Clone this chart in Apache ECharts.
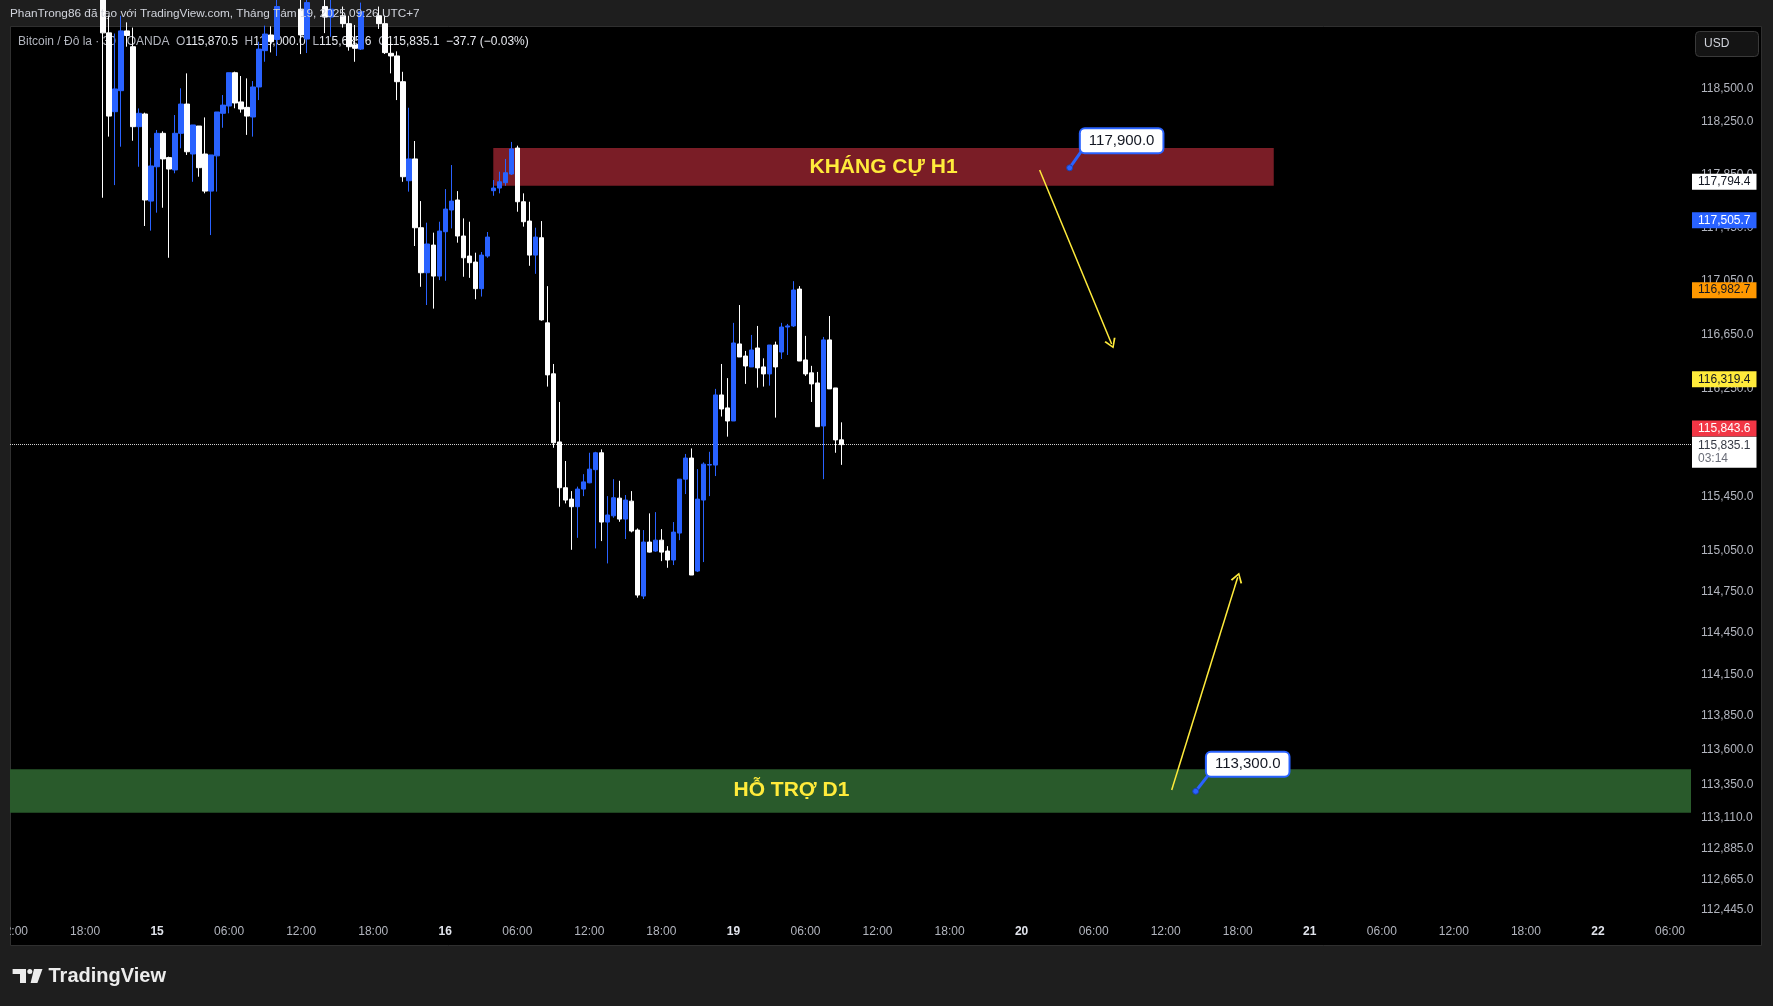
<!DOCTYPE html>
<html><head><meta charset="utf-8">
<script src="https://cdn.jsdelivr.net/npm/echarts/dist/echarts.min.js"></script>
<style>html,body{margin:0;padding:0;background:#1e1e1e;overflow:hidden}#c{width:1773px;height:1006px}</style>
</head><body><div id="c"></div>
<script>
// ---- data ----
const tickLabels = ['12:00','18:00','15','06:00','12:00','18:00','16','06:00','12:00','18:00','19','06:00','12:00','18:00','20','06:00','12:00','18:00','21','06:00','12:00','18:00','22','06:00'];
const dayLabels = ['15','16','19','20','21','22'];
const barCount = 280;
const firstBar = 15;
const opens = [
119300,118920,118323,118482,118935,118815,118210,118306,117650,117908,
118160,117977,117884,118160,118381,118004,118215,118004,117725,117990,
118311,118366,118618,118397,118356,118283,118510,118785,118904,118870,
119120,119060,119180,119100,118873,119150,119220,119120,119040,119100,
119050,118990,118828,118797,119080,119150,119050,118990,118765,118745,
118550,117803,117967,117450,117113,117320,117088,117420,117583,117658,
117388,117238,117193,116994,117238,117728,117748,117788,117853,118049,
117645,117500,117245,117375,116739,116360,115855,115517,115433,115377,
115507,115553,115650,115775,115264,115310,115440,115286,115418,115205,
114721,115117,115051,115131,115051,114985,115183,115580,115736,114904,
115426,115684,115684,116203,116107,116010,116582,116492,116411,116552,
116411,116359,116574,116522,116708,116716,116991,116463,116367,116292,
115973,116612,116255,115870.5];
const highs = [
119450,119050,118915,119050,119000,118960,118348,118316,118051,118185,
118175,117984,118298,118500,118613,118223,118215,118280,117997,118321,
118449,118618,118626,118593,118575,118555,118853,118975,118970,119200,
119250,119300,119280,119200,119250,119320,119300,119180,119200,119180,
119120,119050,118980,119150,119250,119220,119120,119050,118850,118780,
118625,118353,118102,117650,117488,117413,117495,117740,117921,117725,
117520,117495,117263,117268,117418,117808,117871,117967,118095,118067,
117708,117645,117450,117500,117013,116433,116151,115714,115492,115525,
115617,115775,115782,115800,115455,115580,115568,115463,115492,115217,
115205,115328,115337,115212,115087,115264,115580,115766,115807,115654,
115704,115782,116248,116433,116328,116739,116872,116530,116649,116716,
116475,116574,116599,116739,116731,117050,117013,116642,116419,116374,
116634,116790,116255,116000];
const lows = [
117675,118135,117770,118059,118815,118104,117908,117463,117428,117563,
117600,117225,117859,118047,117997,117795,117833,117708,117395,117721,
118202,118311,118349,118316,118148,118135,118411,118701,118772,118745,
119000,119020,119040,118759,118767,119080,119050,118918,118890,119000,
118960,118785,118701,118790,119030,118990,118950,118760,118613,118411,
117795,117721,117313,117008,116872,116845,117058,117053,117445,117338,
117083,117075,116915,116935,117225,117690,117708,117765,117846,117570,
117458,117165,117105,116755,116265,115812,115377,115401,115060,115148,
115455,115550,115070,115124,114960,115296,115266,115139,115188,114709,
114699,115040,115045,114977,114928,114948,115131,115470,114875,114897,
114970,115455,115603,116043,115894,116010,116485,116285,116411,116257,
116265,116272,116035,116470,116500,116708,116455,116344,116151,115968,
115580,116248,115775,115685.6];
const closes = [
118920,118290,118495,118935,118900,118210,118311,117658,117914,118160,
117967,117891,118160,118381,118021,118223,117901,117725,117997,118321,
118373,118618,118389,118343,118290,118510,118797,118911,118853,119120,
119060,119180,119100,118904,119150,119220,119120,119040,119100,119050,
118990,118815,118803,119080,119150,119050,118990,118770,118745,118550,
117833,117967,117450,117113,117328,117088,117425,117590,117650,117388,
117225,117188,116994,117245,117380,117748,117795,117863,118042,117645,
117495,117245,117380,116761,116352,115849,115517,115426,115377,115507,
115560,115654,115775,115264,115316,115443,115286,115426,115198,114728,
115117,115043,115131,115043,114985,115190,115580,115736,114875,115433,
115691,115688,116203,116099,116010,116589,116485,116418,116537,116404,
116359,116574,116411,116708,116716,116984,116455,116359,116285,115968,
116612,116248,115870,115835.1];
const priceTicks = [118500,118250,117850,117450,117050,116650,116250,115850,115450,115050,114750,114450,114150,113850,113600,113350,113110,112885,112665,112445];
const priceTags = [
  {value:117794.4, bg:'#ffffff', fg:'#131722', shift:0},
  {value:117505.7, bg:'#2962ff', fg:'#ffffff', shift:0},
  {value:116982.7, bg:'#ff9800', fg:'#131722', shift:0},
  {value:116319.4, bg:'#ffeb3b', fg:'#131722', shift:0},
  {value:115843.6, bg:'#f23645', fg:'#ffffff', shift:-15}
];
const lastPrice = 115835.1;
const countdown = '03:14';
const resistance = {from:80, to:210, top:118050, bottom:117765, text:'KHÁNG CỰ H1'};
const support = {top:113460, bottom:113145, text:'HỖ TRỢ D1'};
const callouts = [
  {bar:176, value:117900, text:'117,900.0', tailBar:178, tailValue:118027},
  {bar:197, value:113300, text:'113,300.0', tailBar:199, tailValue:113411}
];
const arrows = [
  [[171,117884],[183,116582]],
  [[193,113310],[204,114858]]
];
// ---- build ----
const FONT = '"Liberation Sans", Arial, sans-serif';
const fmt = v => Number(v).toLocaleString('en-US',{minimumFractionDigits:1,maximumFractionDigits:1});
const categories = [];
for (let i = 0; i < barCount; i++) categories.push(tickLabels[Math.floor(i/12)] + ' +' + (i%12)*30 + 'm');
const candleData = [];
for (let i = 0; i < barCount; i++) {
  const k = i - firstBar;
  candleData.push(k >= 0 && k < opens.length ? [opens[k], closes[k], lows[k], highs[k]] : '-');
}
const CHEVRON = 'path://M0,10 L5,0 L10,10 L8.6,10.8 L5,3 L1.4,10.8 Z';
const markLines = [];
arrows.forEach(a => markLines.push([
  {coord:a[0], symbol:'none', lineStyle:{color:'#ffeb3b', width:1.5, type:'solid'}},
  {coord:a[1], symbol:CHEVRON, symbolSize:[12,10], lineStyle:{color:'#ffeb3b', width:1.5, type:'solid'}}
]));
callouts.forEach(c => markLines.push([
  {coord:[c.bar,c.value], symbol:'none', lineStyle:{color:'#2962ff', width:3, type:'solid'}},
  {coord:[c.tailBar,c.tailValue], symbol:'none', lineStyle:{color:'#2962ff', width:3, type:'solid'}}
]));
const markPoints = [];
priceTags.forEach(t => markPoints.push({
  coord:[barCount-1, t.value], symbol:'circle', symbolSize:0,
  label:{show:true, position:'right', distance:4, offset:[0,t.shift], formatter:fmt(t.value),
    backgroundColor:t.bg, color:t.fg, padding:[2,6,2,6], fontSize:12, fontFamily:FONT}
}));
markPoints.push({
  coord:[barCount-1, lastPrice], symbol:'circle', symbolSize:0,
  label:{show:true, position:'right', distance:4, offset:[0,7.5],
    formatter:'{a|'+fmt(lastPrice)+'}\n{b|'+countdown+'}', backgroundColor:'#ffffff', padding:[3,6,2,6],
    rich:{a:{color:'#363a45', fontSize:12, lineHeight:13, fontFamily:FONT}, b:{color:'#6a6d78', fontSize:12, lineHeight:13, fontFamily:FONT}}}
});
callouts.forEach(c => markPoints.push({
  coord:[c.bar, c.value], symbol:'circle', symbolSize:6,
  itemStyle:{color:'#2962ff', borderColor:'#1c3fae', borderWidth:1},
  label:{show:true, position:'inside', offset:[52,-27], formatter:c.text, backgroundColor:'#ffffff',
    borderColor:'#2962ff', borderWidth:2, borderRadius:4, padding:[4,8,4,8], color:'#131722', fontSize:15, fontFamily:FONT}
}));

const chart = echarts.init(document.getElementById('c'), null, {renderer:'canvas'});
chart.setOption({
  backgroundColor:'#1e1e1e',
  animation:false,
  grid:{left:10, right:82, top:27, bottom:88, containLabel:false, outerBoundsMode:'none'},
  xAxis:[{
    type:'category', data:categories, boundaryGap:true,
    axisLine:{show:false}, axisTick:{show:false}, splitLine:{show:false},
    axisLabel:{interval:11, margin:8, color:'#b2b5be', fontSize:12, fontFamily:FONT, hideOverlap:false,
      formatter:(v, idx) => { const t = tickLabels[Math.round(idx/12)]; return dayLabels.indexOf(t) >= 0 ? '{d|'+t+'}' : t; },
      rich:{d:{fontWeight:'bold', color:'#e0e3eb', fontSize:12, fontFamily:FONT}}}
  },{
    type:'value', min:0, max:barCount, show:false, splitLine:{show:false}
  }],
  yAxis:{
    type:'log', logBase:10, min:112387.3, max:118964.6, position:'right', scale:true,
    axisLine:{show:false}, axisTick:{show:false}, splitLine:{show:false},
    axisLabel:{customValues:priceTicks, margin:10, color:'#b2b5be', fontSize:12, fontFamily:FONT,
      formatter:v => fmt(Math.round(v))}
  },
  series:[{
    type:'line', xAxisIndex:1, data:[], silent:true, z:3,
    markArea:{silent:true, data:[
      [{xAxis:0, yAxis:support.top, itemStyle:{color:'#295a2b'},
        label:{show:true, position:'inside', offset:[-59,-1], formatter:support.text, color:'#ffeb3b', fontSize:21, fontWeight:'bold', fontFamily:FONT}},
       {xAxis:barCount, yAxis:support.bottom}]
    ]},
    markLine:{silent:true, symbol:['none','none'], label:{show:false}, data:[
      [{coord:[0,lastPrice], lineStyle:{type:'dotted', color:'#d0d0d0', width:1}}, {coord:[barCount,lastPrice], lineStyle:{type:'dotted', color:'#d0d0d0', width:1}}]
    ]}
  },{
    type:'candlestick', data:candleData, barWidth:5, clip:true, z:5,
    itemStyle:{color:'#2962ff', color0:'#ffffff', borderColor:'#2962ff', borderColor0:'#ffffff', borderWidth:1},
    markArea:{silent:true, data:[
      [{xAxis:resistance.from, yAxis:resistance.top, itemStyle:{color:'#7a1d26'},
        label:{show:true, position:'inside', formatter:resistance.text, color:'#ffeb3b', fontSize:21, fontWeight:'bold', fontFamily:FONT}},
       {xAxis:resistance.to, yAxis:resistance.bottom}]
    ]},
    markLine:{silent:true, symbol:['none','none'], label:{show:false}, data:markLines},
    markPoint:{silent:true, data:markPoints}
  }],
  graphic:[
    {type:'rect', silent:true, z:-10, shape:{x:10.5, y:26.5, width:1751, height:919}, style:{fill:'#000000', stroke:'#2f2f2f', lineWidth:1}},
    {type:'rect', silent:true, z:100, shape:{x:0, y:27, width:10, height:919}, style:{fill:'#1e1e1e'}},
    {type:'text', silent:true, z:100, x:10, y:14, style:{text:'PhanTrong86 đã tạo với TradingView.com, Tháng Tám 19, 2025 09:26 UTC+7', fill:'#d1d4dc', font:'11.8px '+FONT, textVerticalAlign:'middle', verticalAlign:'middle'}},
    {type:'text', silent:true, z:1, x:18, y:41.5, style:{
      text:'{g|Bitcoin / Đô la · 30 · OANDA  O}{w|115,870.5}{g|  H}{w|116,000.0}{g|  L}{w|115,685.6}{g|  C}{w|115,835.1}{w|  −37.7 (−0.03%)}',
      textVerticalAlign:'middle', verticalAlign:'middle',
      rich:{g:{fill:'#b2b5be', fontSize:12, fontFamily:FONT}, w:{fill:'#e6e8ee', fontSize:12, fontFamily:FONT}}}},
    {type:'rect', silent:true, z:100, shape:{x:1695.5, y:31.5, width:63, height:25, r:4}, style:{fill:'#141414', stroke:'#3a3a3a', lineWidth:1}},
    {type:'text', silent:true, z:101, x:1704, y:44, style:{text:'USD', fill:'#d1d4dc', font:'12px '+FONT, textVerticalAlign:'middle', verticalAlign:'middle'}},
    {type:'polygon', silent:true, z:100, shape:{points:[[12.6,969],[26,969],[26,983],[20,983],[20,974],[12.6,974]]}, style:{fill:'#ececec'}},
    {type:'circle', silent:true, z:100, shape:{cx:29.8, cy:971.4, r:2.5}, style:{fill:'#ececec'}},
    {type:'polygon', silent:true, z:100, shape:{points:[[34,969],[42.5,969],[37.4,983],[30.6,983]]}, style:{fill:'#ececec'}},
    {type:'text', silent:true, z:100, x:48.5, y:976, style:{text:'TradingView', fill:'#ececec', font:'bold 20px '+FONT, textVerticalAlign:'middle', verticalAlign:'middle'}}
  ]
});
</script>
</body></html>
